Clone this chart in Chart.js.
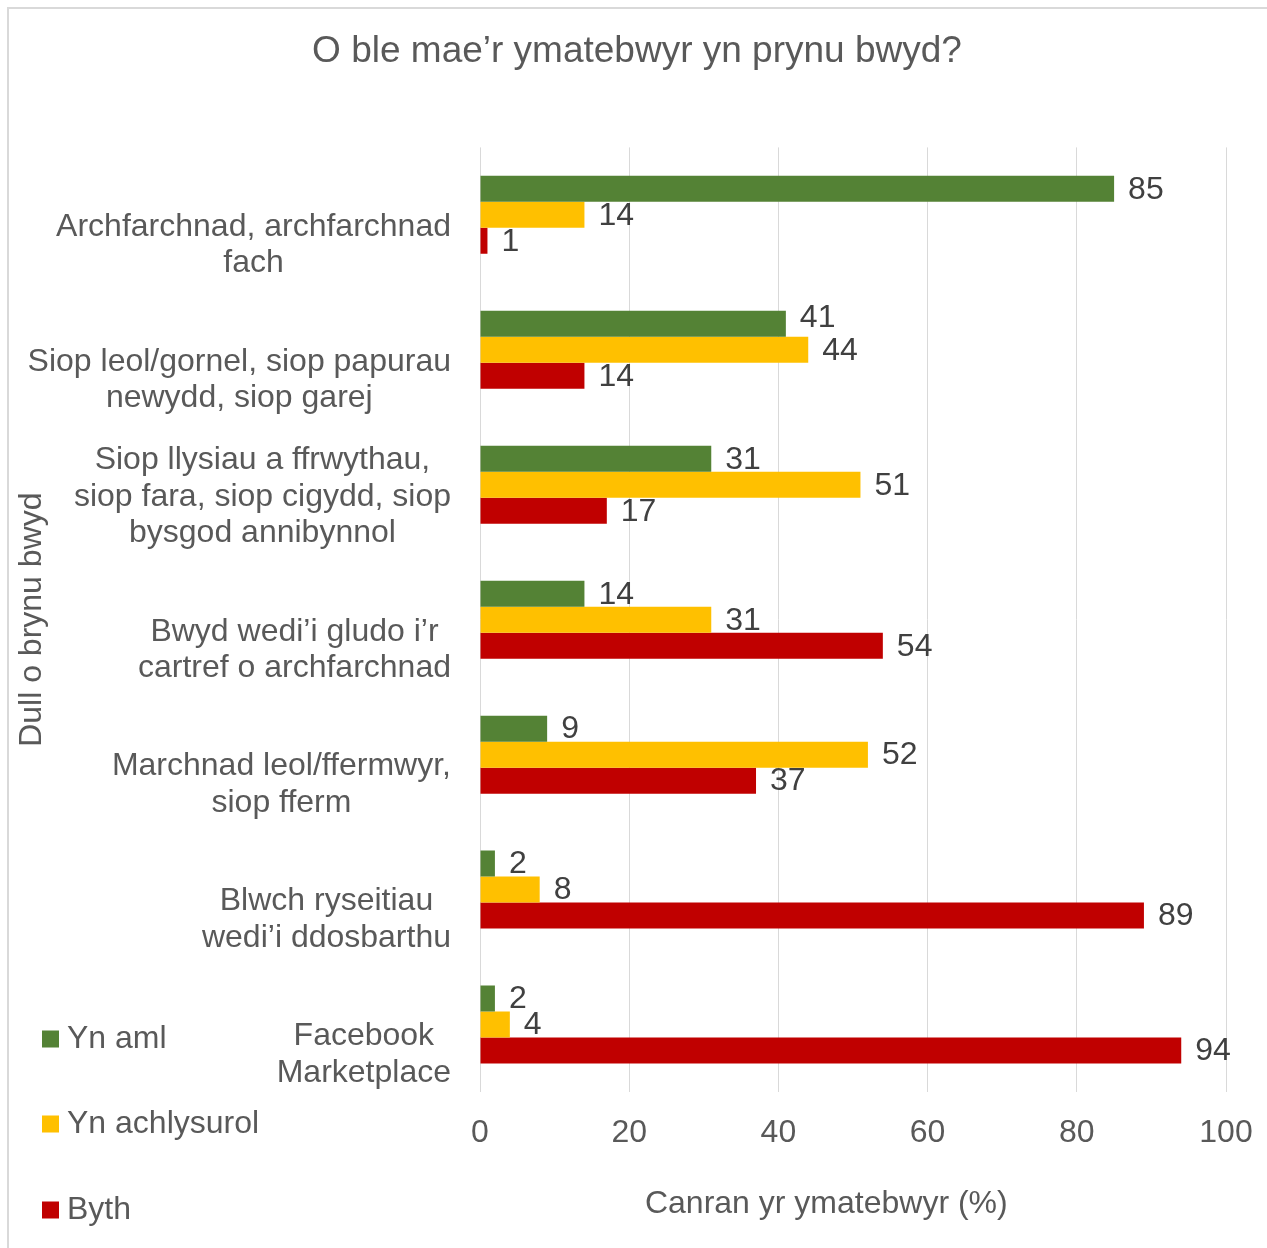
<!DOCTYPE html>
<html>
<head>
<meta charset="utf-8">
<script src="https://cdn.jsdelivr.net/npm/chart.js@4/dist/chart.umd.min.js"></script>
<style>
  html, body { margin: 0; padding: 0; background: #ffffff; }
  #frame { position: absolute; left: 7px; top: 7px; width: 1300px; height: 1300px; border-left: 2px solid #d9d9d9; border-top: 2px solid #d9d9d9; box-sizing: border-box; }
  #wrap { position: absolute; left: 0; top: 0; width: 1267px; height: 1248px; }
</style>
</head>
<body>
<div id="frame"></div>
<div id="wrap"><canvas id="c" width="1267" height="1248"></canvas></div>
<script>
const titleText = 'O ble mae\u2019r ymatebwyr yn prynu bwyd?';
const xAxisTitle = 'Canran yr ymatebwyr (%)';
const yAxisTitle = 'Dull o brynu bwyd';
const categories = [
  ['Archfarchnad, archfarchnad', 'fach'],
  ['Siop leol/gornel, siop papurau', 'newydd, siop garej'],
  ['Siop llysiau a ffrwythau,', 'siop fara, siop cigydd, siop', 'bysgod annibynnol'],
  ['Bwyd wedi\u2019i gludo i\u2019r', 'cartref o archfarchnad'],
  ['Marchnad leol/ffermwyr,', 'siop fferm'],
  ['Blwch ryseitiau', 'wedi\u2019i ddosbarthu'],
  ['Facebook', 'Marketplace']
];
const seriesNames = ['Yn aml', 'Yn achlysurol', 'Byth'];
const seriesColors = ['#548235', '#FFC000', '#C00000'];
const ynAml = [85, 41, 31, 14, 9, 2, 2];
const ynAchlysurol = [14, 44, 51, 31, 52, 8, 4];
const byth = [1, 14, 17, 54, 37, 89, 94];
const xTicks = [0, 20, 40, 60, 80, 100];

const FONT = '"Liberation Sans", Arial, sans-serif';
const AXIS_COLOR = '#595959';

const valueLabels = {
  id: 'valueLabels',
  afterDatasetsDraw(chart) {
    const ctx = chart.ctx;
    ctx.save();
    ctx.font = '32px ' + FONT;
    ctx.fillStyle = '#404040';
    ctx.textAlign = 'left';
    ctx.textBaseline = 'middle';
    const nCat = chart.data.labels.length;
    const nDs = chart.data.datasets.length;
    for (let i = 0; i < nCat; i++) {
      const items = [];
      for (let di = 0; di < nDs; di++) {
        const bar = chart.getDatasetMeta(di).data[i];
        const txt = String(chart.data.datasets[di].data[i]);
        const x = bar.x + 14;
        items.push({ txt, x, w: ctx.measureText(txt).width, y: bar.y + 1 });
      }
      // simple overlap avoidance: nudge a label up if its glyphs collide with the next one
      for (let k = 0; k < items.length - 1; k++) {
        const a = items[k], b = items[k + 1];
        const overlap = Math.min(a.x + a.w, b.x + b.w) - Math.max(a.x, b.x);
        if (overlap > 6 && Math.abs(a.y - b.y) < 32) {
          a.y -= 7;
        }
      }
      items.forEach(it => ctx.fillText(it.txt, it.x, it.y));
    }
    ctx.restore();
  }
};

const categoryLabels = {
  id: 'categoryLabels',
  afterDraw(chart) {
    const ctx = chart.ctx;
    const yScale = chart.scales.y;
    const rightEdge = chart.chartArea.left - 29;
    ctx.save();
    ctx.font = '32px ' + FONT;
    ctx.fillStyle = AXIS_COLOR;
    ctx.textAlign = 'center';
    ctx.textBaseline = 'middle';
    chart.data.labels.forEach((lines, i) => {
      const yc = yScale.getPixelForValue(i);
      const maxW = Math.max(...lines.map(l => ctx.measureText(l).width));
      const cx = rightEdge - maxW / 2;
      const n = lines.length;
      lines.forEach((l, j) => {
        ctx.fillText(l, cx, yc + 48.5 - (n - 1 - j) * 36.5);
      });
    });
    ctx.restore();
  }
};

const sideLegend = {
  id: 'sideLegend',
  afterDraw(chart) {
    const ctx = chart.ctx;
    ctx.save();
    ctx.font = '32px ' + FONT;
    ctx.textAlign = 'left';
    ctx.textBaseline = 'middle';
    const ys = [1039, 1124, 1210];
    chart.data.datasets.forEach((ds, i) => {
      ctx.fillStyle = ds.backgroundColor;
      ctx.fillRect(42, ys[i] - 8.5, 17, 17);
      ctx.fillStyle = AXIS_COLOR;
      ctx.fillText(ds.label, 67, ys[i]);
    });
    ctx.restore();
  }
};

new Chart(document.getElementById('c'), {
  type: 'bar',
  data: {
    labels: categories,
    datasets: [
      { label: seriesNames[0], data: ynAml, backgroundColor: seriesColors[0] },
      { label: seriesNames[1], data: ynAchlysurol, backgroundColor: seriesColors[1] },
      { label: seriesNames[2], data: byth, backgroundColor: seriesColors[2] }
    ]
  },
  options: {
    indexAxis: 'y',
    responsive: false,
    animation: false,
    devicePixelRatio: 1,
    layout: { padding: { left: 48, right: 41, top: 0, bottom: 0 } },
    datasets: { bar: { barPercentage: 1.0, categoryPercentage: 0.578, borderWidth: 0 } },
    plugins: {
      legend: { display: false },
      tooltip: { enabled: false },
      title: {
        display: true,
        text: titleText,
        color: AXIS_COLOR,
        font: { family: FONT, size: 37, weight: 'normal', lineHeight: 1.2 },
        padding: { top: 30, bottom: 73 }
      }
    },
    scales: {
      x: {
        min: 0, max: 100,
        afterBuildTicks(scale) { scale.ticks = xTicks.map(v => ({ value: v })); },
        afterFit(scale) { scale.height = 156; scale.paddingLeft = 0; scale.paddingRight = 0; },
        grid: { color: '#d9d9d9', lineWidth: 1, drawTicks: false },
        border: { display: false },
        ticks: { color: AXIS_COLOR, font: { family: FONT, size: 32 }, padding: 22, maxRotation: 0 },
        title: {
          display: true,
          text: xAxisTitle + '      ',
          color: AXIS_COLOR,
          font: { family: FONT, size: 32, lineHeight: 1.2 },
          padding: { top: 0, bottom: 25 }
        }
      },
      y: {
        afterFit(scale) { scale.width = 432; },
        grid: { display: false },
        border: { display: false },
        ticks: { display: false },
        title: {
          display: true,
          text: yAxisTitle,
          color: AXIS_COLOR,
          font: { family: FONT, size: 32, lineHeight: 1.2 },
          padding: { top: -35, bottom: 0 }
        }
      }
    }
  },
  plugins: [valueLabels, categoryLabels, sideLegend]
});
</script>
</body>
</html>
